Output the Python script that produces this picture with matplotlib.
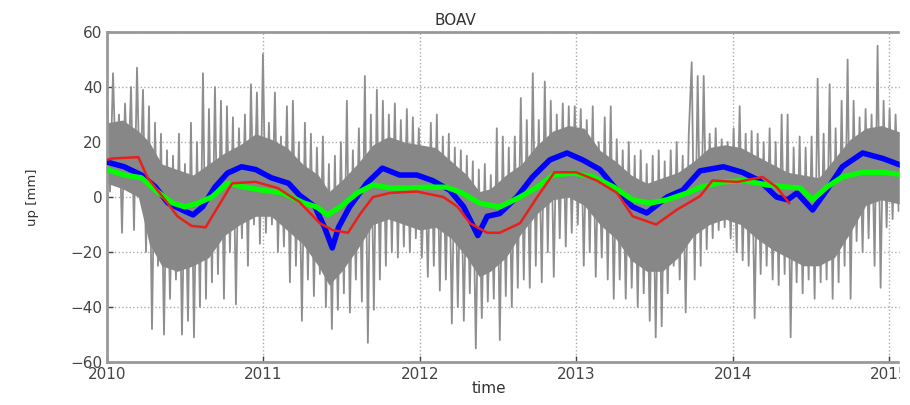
import numpy as np
import matplotlib
matplotlib.use("Agg")
from matplotlib import pyplot as plt
from matplotlib.ticker import FormatStrFormatter
from matplotlib.patches import Rectangle

gray_2010 = [36, 2, 45, 8, 30, -13, 34, 5, 40, -12, 47, 0, 39,
             -20, 33, -48, 27, -25, 23, -50, 17, -37, 15, -30, 23, -50,
             12, -45, 27, -51, 20, -40, 45, -37, 32, -31, 40, -28, 35,
             -37, 33, -20, 29, -39, 25, -15, 30, -25, 41, -10, 38, -17]
gray_2011 = [52, -13, 27, -10, 38, -20, 22, -18, 33, -31, 35, -25, 20,
             -45, 27, -30, 23, -36, 18, -28, 22, -40, 12, -48, 15, -41,
             20, -35, 35, -42, 17, -30, 25, -38, 44, -53, 30, -41, 39,
             -30, 35, -25, 30, -20, 34, -22, 28, -18, 32, -20, 29, -15]
gray_2012 = [25, -22, 15, -29, 27, -25, 30, -34, 22, -30, 23, -46, 18,
             -40, 17, -45, 15, -35, 13, -55, 10, -44, 12, -38, 8, -37,
             25, -52, 22, -36, 18, -40, 22, -33, 36, -30, 28, -33, 45,
             -25, 28, -31, 42, -20, 35, -29, 30, -15, 34, -18, 33, -13]
gray_2013 = [33, -10, 32, -25, 28, -20, 33, -29, 20, -22, 29, -30, 33,
             -37, 21, -30, 17, -37, 20, -33, 15, -40, 17, -35, 12, -45,
             15, -51, 17, -47, 13, -35, 17, -25, 20, -30, 15, -42, 22,
             49, -30, 44, -25, 44, -19, 23, -15, 25, -12, 21, -11, 20]
gray_2014 = [-15, 25, -20, 33, -23, 23, -25, 24, -44, 23, -28, 20, -25,
             25, -30, 20, -32, 30, -28, 30, -51, 18, -31, 22, -35, 18,
             -30, 22, -37, 43, -31, 23, -30, 41, -37, 25, -31, 35, -25,
             50, -37, 35, -16, 29, -20, 32, -15, 30, -25, 55, -33, 35]
gray_2015 = [-11, 32, -8, 30, -5]

# dense part of the daily scatter (upper / lower edge)
core_t = [2010.0, 2010.1, 2010.2, 2010.27, 2010.35, 2010.45, 2010.55, 2010.65, 2010.75, 2010.85, 2010.95,
          2011.05, 2011.15, 2011.25, 2011.35, 2011.42, 2011.5, 2011.6, 2011.7, 2011.8, 2011.9,
          2012.0, 2012.1, 2012.2, 2012.3, 2012.38, 2012.45, 2012.55, 2012.65, 2012.75, 2012.85, 2012.95,
          2013.05, 2013.15, 2013.25, 2013.35, 2013.45, 2013.55, 2013.65, 2013.75, 2013.85, 2013.95,
          2014.05, 2014.15, 2014.25, 2014.35, 2014.45, 2014.55, 2014.65, 2014.75, 2014.85, 2014.95, 2015.1]
core_hi = [27, 28, 24, 20, 12, 10, 8, 12, 16, 19, 23,
           21, 18, 12, 8, 2, 6, 12, 19, 22, 20,
           19, 18, 13, 8, 2, 3, 8, 12, 19, 24, 26,
           25, 17, 13, 8, 5, 7, 9, 13, 18, 19,
           18, 15, 12, 9, 8, 7, 14, 21, 25, 26, 23]
core_lo = [5, 3, 0, -17, -25, -27, -25, -22, -14, -10, -7,
           -7, -12, -17, -25, -32, -27, -19, -10, -8, -10,
           -12, -11, -15, -22, -29, -27, -22, -13, -6, -1, 0,
           -3, -10, -15, -23, -27, -27, -22, -14, -10, -8,
           -10, -15, -19, -22, -25, -25, -22, -13, -3, -1, -3]

blue_t = [2010.0, 2010.11, 2010.22, 2010.31, 2010.39, 2010.48, 2010.55, 2010.61,
          2010.69, 2010.77, 2010.86, 2010.95, 2011.05, 2011.16, 2011.23, 2011.33,
          2011.39, 2011.44, 2011.48, 2011.55, 2011.66, 2011.76, 2011.87, 2011.98,
          2012.08, 2012.19, 2012.28, 2012.37, 2012.43, 2012.51, 2012.62, 2012.72,
          2012.83, 2012.94, 2013.04, 2013.15, 2013.26, 2013.36, 2013.45, 2013.58,
          2013.68, 2013.79, 2013.94, 2014.06, 2014.17, 2014.28, 2014.35, 2014.41,
          2014.51, 2014.60, 2014.70, 2014.83, 2014.96, 2015.1]
blue_up = [12.7, 11, 8, 3.6, -2.2, -4.7, -6.5, -3.6,
           3.6, 8.7, 11, 10, 7, 5, 0.7, -3.6,
           -11, -18.5, -11, -3.6, 5, 10.5, 8, 8,
           6, 2.5, -3.6, -14, -7, -6, 0, 7.3,
           13.5, 16, 13.5, 10, 2.5, -3.6, -5.8, 0,
           2.5, 9.5, 11, 9, 6, 0, -1, 1.5,
           -4.7, 2.5, 11, 16, 14, 11]

green_t = [2010.0, 2010.11, 2010.22, 2010.32, 2010.42, 2010.50, 2010.58, 2010.67,
           2010.77, 2010.88, 2010.99, 2011.12, 2011.26, 2011.34, 2011.41, 2011.49,
           2011.60, 2011.70, 2011.81, 2011.92, 2012.04, 2012.17, 2012.27, 2012.38,
           2012.51, 2012.64, 2012.75, 2012.85, 2012.98, 2013.11, 2013.24, 2013.36,
           2013.47, 2013.58, 2013.71, 2013.79, 2013.94, 2014.07, 2014.22, 2014.35,
           2014.43, 2014.51, 2014.60, 2014.70, 2014.83, 2014.96, 2015.1]
green_up = [10, 8, 7, 2, -2.2, -3.6, -2.2, 0,
            5, 3.6, 2.5, 1.5, -2.2, -3.6, -6.5, -3.6,
            1.5, 4.4, 3.3, 3.3, 3.6, 3.6, 1.5, -2.2,
            -3.6, 0, 3.6, 8, 8.7, 7.3, 3.6, -1,
            -2.2, -1, 1.5, 3.5, 5.5, 6, 4.4, 3.6,
            3.3, -1, 3.6, 7.3, 9, 9, 8]

red_t = [2010.0, 2010.03, 2010.20, 2010.26, 2010.37, 2010.45, 2010.54, 2010.63,
         2010.71, 2010.80, 2010.95, 2011.09, 2011.23, 2011.36, 2011.44, 2011.54,
         2011.62, 2011.70, 2011.81, 2011.98, 2012.15, 2012.24, 2012.32, 2012.43,
         2012.51, 2012.64, 2012.75, 2012.86, 2013.0, 2013.13, 2013.26, 2013.36,
         2013.51, 2013.64, 2013.79, 2013.87, 2014.03, 2014.19, 2014.28, 2014.36]
red_up = [13.5, 14, 14.5, 7, -1, -7, -10.5, -11,
          -3.5, 5, 5.5, 3.3, -1.8, -9.5, -12, -13,
          -6, 0, 1.5, 2, 0, -3.5, -9.5, -13,
          -13, -9.5, 0, 9, 9, 6, 1.5, -7,
          -10, -4.7, 0.3, 6, 5.5, 7.3, 3.6, -2.2]

year_ticks = [2010, 2011, 2012, 2013, 2014, 2015]
up_ticks = [-60, -40, -20, 0, 20, 40, 60]

gray_up = gray_2010 + gray_2011 + gray_2012 + gray_2013 + gray_2014 + gray_2015
gray_t = 2010 + np.arange(len(gray_up)) * 7 / 365.25

fig = plt.figure(figsize=(9.1, 4.05), dpi=100)
# axes run past the right edge, the picture is cut at ~x=900 px
ax = fig.add_axes([0.1176, 0.106, 0.894, 0.815])

ax.plot(gray_t, gray_up, color='#8e8e8e', lw=1.3, zorder=2)
ax.fill_between(core_t, core_lo, core_hi, color='#878787', lw=0, zorder=2.5)
ax.plot(blue_t, blue_up, color='#0000ff', lw=4, zorder=3)
ax.plot(green_t, green_up, color='#00ff00', lw=3.8, zorder=4)
ax.plot(red_t, red_up, color='#e8201c', lw=1.8, zorder=5)

ax.set_xlim(2010, 2015.2)
ax.set_ylim(-60, 60)
ax.set_xticks(year_ticks)
ax.set_yticks(up_ticks)
ax.xaxis.set_major_formatter(FormatStrFormatter('%d'))
ax.tick_params(direction='in', length=4, colors='#444444', labelsize=11, width=1)
ax.grid(True, linestyle=':', color='#aaaaaa', lw=1)
for s in ax.spines.values():
    s.set_color('#999999')
    s.set_linewidth(2)

ax.set_title('BOAV', fontsize=11, color='#333333', pad=5, x=0.428)
ax.set_xlabel('time', fontsize=11, color='#333333', labelpad=-1, x=0.469)
ax.set_ylabel('up [mm]', fontsize=9.5, color='#333333', labelpad=22)

fig.add_artist(Rectangle((900 / 910, 0), 10 / 910, 1, transform=fig.transFigure,
                         color='white', zorder=10))

fig.savefig('out.png', dpi=100)
